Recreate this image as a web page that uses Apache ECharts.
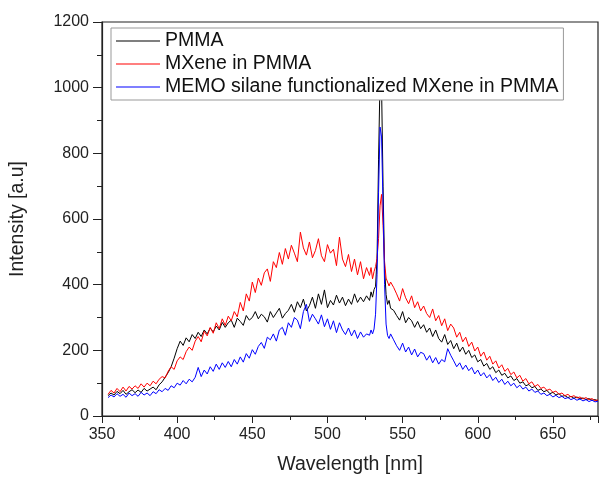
<!DOCTYPE html>
<html>
<head>
<meta charset="utf-8">
<script src="https://cdn.jsdelivr.net/npm/echarts@6/dist/echarts.min.js"></script>
<style>
  html, body { margin: 0; padding: 0; background: #fff; }
  #chart { width: 599px; height: 480px; }
</style>
</head>
<body>
<div id="chart"></div>
<script>
// wavelength samples (nm), denser around the 535 nm peak
const wavelength = [
  354, 356, 358, 360, 362, 364, 366, 368, 370, 372,
  374, 376, 378, 380, 382, 384, 386, 388, 390, 392,
  394, 396, 398, 400, 402, 404, 406, 408, 410, 412,
  414, 416, 418, 420, 422, 424, 426, 428, 430, 432,
  434, 436, 438, 440, 442, 444, 446, 448, 450, 452,
  454, 456, 458, 460, 462, 464, 466, 468, 470, 472,
  474, 476, 478, 480, 482, 484, 486, 488, 490, 492,
  494, 496, 498, 500, 502, 504, 506, 508, 510, 512,
  514, 516, 518, 520, 522, 524, 526,
  528, 529, 530, 531, 532, 533, 534, 535, 536, 537, 538, 539, 540, 541, 542,
  544, 546, 548, 550, 552, 554, 556, 558, 560, 562,
  564, 566, 568, 570, 572, 574, 576, 578, 580, 582,
  584, 586, 588, 590, 592, 594, 596, 598, 600, 602,
  604, 606, 608, 610, 612, 614, 616, 618, 620, 622,
  624, 626, 628, 630, 632, 634, 636, 638, 640, 642,
  644, 646, 648, 650, 652, 654, 656, 658, 660, 662,
  664, 666, 668, 670, 672, 674, 676, 678, 680
]

const pmma = [
  62, 70, 64, 75, 68, 78, 66, 74, 80, 71,
  79, 72, 84, 76, 82, 88, 80, 95, 104, 118,
  132, 150, 176, 205, 228, 215, 238, 226, 248, 236,
  255, 242, 262, 250, 268, 256, 274, 262, 285, 270,
  284, 292, 270, 298, 288, 276, 306, 292, 300, 318,
  296, 310, 302, 286, 318, 300, 314, 328, 298, 312,
  322, 340, 316, 348, 330, 356, 320, 336, 362, 328,
  372, 340, 384, 330, 352, 338, 368, 344, 362, 336,
  356, 340, 372, 346, 362, 348, 366,
  352, 378, 362, 385, 395, 480, 780, 1030, 1000, 700, 450, 370, 340, 352, 328,
  322, 306, 292, 318, 284, 300, 290, 270, 288, 266,
  278, 255, 268, 242, 262, 236, 225, 248, 218, 230,
  205, 222, 196, 210, 188, 200, 178, 186, 165, 172,
  152, 160, 142, 150, 132, 140, 124, 130, 116, 122,
  108, 114, 100, 104, 92, 96, 86, 90, 78, 82,
  74, 78, 68, 72, 64, 68, 60, 62, 56, 60,
  54, 58, 52, 55, 50, 53, 48, 50, 46
]

const mxene = [
  66, 78, 70, 84, 74, 88, 76, 90, 82, 92,
  84, 98, 88, 100, 92, 106, 98, 112, 120, 116,
  136, 150, 142, 168, 180, 172, 196, 210, 200, 228,
  242, 226, 258, 244, 270, 252, 284, 266, 296, 276,
  304, 290, 318, 302, 346, 320, 372, 350, 408, 376,
  420, 398, 436, 448, 410, 470, 452, 498, 462, 510,
  478, 520, 496, 470, 560, 512, 490, 530, 482, 504,
  540, 488, 470, 522, 496, 508, 458, 545, 478, 455,
  492, 440, 478, 430, 470, 418, 452,
  428, 452, 418, 440, 455, 480, 540, 640, 675, 580, 470, 420, 426, 396, 408,
  392, 372, 350, 388, 360, 342, 366, 330, 348, 320,
  335, 312, 300, 326, 290, 306, 275, 296, 260, 280,
  268, 240, 255, 226, 240, 212, 225, 198, 210, 182,
  195, 170, 182, 158, 168, 146, 156, 136, 145, 126,
  134, 116, 124, 106, 114, 98, 104, 90, 96, 84,
  88, 78, 82, 72, 76, 66, 70, 62, 66, 58,
  62, 55, 58, 52, 56, 50, 53, 47, 49
]

const memo = [
  56, 64, 58, 68, 60, 66, 57, 70, 62, 68,
  60, 72, 64, 70, 62, 74, 68, 80, 74, 84,
  78, 92, 86, 100, 94, 108, 98, 112, 104, 118,
  148, 120, 140, 128, 150, 136, 158, 142, 162, 148,
  166, 150, 172, 158, 180, 164, 190, 176, 202, 188,
  212, 224, 206, 240, 232, 250, 228, 262, 270, 246,
  284, 270, 300, 292, 266, 318, 340, 288, 310, 296,
  280, 308, 272, 296, 264, 290, 254, 284, 262, 248,
  268, 244, 262, 236, 256, 240, 250,
  246, 262, 250, 265, 310, 430, 680, 880, 850, 640, 400, 280, 245, 236, 250,
  232, 214, 200, 222, 195, 210, 186, 204, 180, 194,
  190, 170, 184, 162, 178, 158, 172, 165, 205, 185,
  168, 150, 162, 142, 155, 138, 148, 128, 140, 122,
  132, 116, 126, 108, 118, 102, 112, 96, 106, 92,
  100, 86, 94, 82, 88, 76, 82, 72, 76, 66,
  70, 62, 66, 58, 63, 56, 60, 53, 56, 50,
  54, 48, 52, 46, 50, 44, 48, 43, 45
]

const seriesNames = ['PMMA', 'MXene in PMMA', 'MEMO silane functionalized MXene in PMMA']
const seriesColors = ['#000000', '#ff0000', '#0000ff']

const pairs = (ys) => wavelength.map((x, i) => [x, ys[i]])

const chart = echarts.init(document.getElementById('chart'))
const font = 'Arial, "Liberation Sans", sans-serif'

let option = {
  backgroundColor: '#fff',
  animation: false,
  grid: {
    left: 101,
    right: 1,
    top: 22,
    bottom: 59,
    show: true,
    borderColor: '#222',
    borderWidth: 1.2
  },
  legend: {
    orient: 'vertical',
    left: 111,
    top: 28,
    icon: 'rect',
    itemWidth: 44,
    itemHeight: 1,
    itemGap: 3,
    padding: [3, 5, 3, 5],
    borderColor: '#999',
    borderWidth: 1,
    backgroundColor: '#fff',
    textStyle: { fontFamily: font, fontSize: 19.5, color: '#111' },
    data: seriesNames
  },
  xAxis: {
    type: 'value',
    min: 350,
    max: 680,
    interval: 50,
    minorTick: { show: true, splitNumber: 2, length: 4, lineStyle: { color: '#222' } },
    axisLine: { onZero: false, lineStyle: { color: '#222', width: 1.2 } },
    axisTick: { inside: false, length: 7, lineStyle: { color: '#222' } },
    splitLine: { show: false },
    axisLabel: {
      showMaxLabel: false,
      fontFamily: font, fontSize: 16, color: '#222', margin: 11
    },
    name: 'Wavelength [nm]',
    nameLocation: 'middle',
    nameGap: 39,
    nameTextStyle: { fontFamily: font, fontSize: 19.5, color: '#222' }
  },
  yAxis: {
    type: 'value',
    min: 0,
    max: 1200,
    interval: 200,
    minorTick: { show: true, splitNumber: 2, length: 5, lineStyle: { color: '#222' } },
    axisLine: { show: true, lineStyle: { color: '#222', width: 1.2 } },
    axisTick: { show: true, inside: false, length: 9, lineStyle: { color: '#222' } },
    splitLine: { show: false },
    axisLabel: {
      formatter: (v) => String(v),
      fontFamily: font, fontSize: 16, color: '#222', margin: 13
    },
    name: 'Intensity [a.u]',
    nameLocation: 'middle',
    nameGap: 74,
    nameTextStyle: { fontFamily: font, fontSize: 19.5, color: '#222' }
  },
  series: [pmma, mxene, memo].map((ys, i) => ({
    name: seriesNames[i],
    type: 'line',
    data: pairs(ys),
    symbol: 'none',
    color: seriesColors[i],
    lineStyle: { width: 1, color: seriesColors[i] }
  }))
}

chart.setOption(option)
</script>
</body>
</html>
